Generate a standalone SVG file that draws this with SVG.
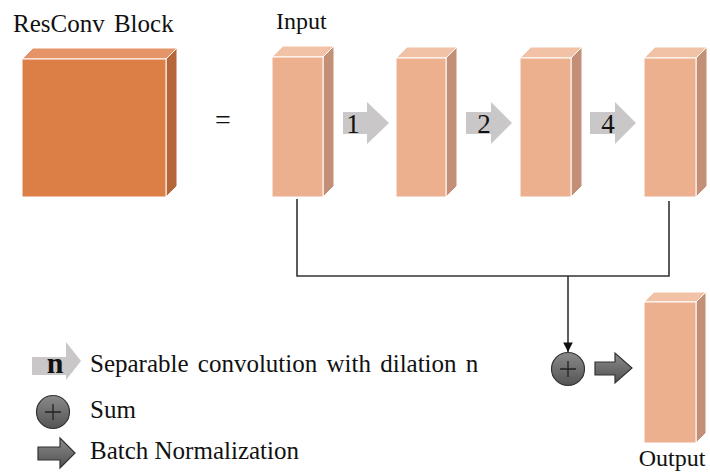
<svg xmlns="http://www.w3.org/2000/svg" width="710" height="472" viewBox="0 0 710 472">
  <style>
    .t { font-family: "Liberation Serif", "Times New Roman", serif; fill: #111; }
    .big { font-size: 25px; }
    .lbl { font-size: 24px; }
    .leg { font-size: 25px; }
    .num { font-size: 27px; text-anchor: middle; }
    .fr { fill: #ECB08F; stroke: #fff; stroke-width: 1; }
    .tp { fill: #F1C2A6; stroke: #fff; stroke-width: 1; }
    .sd { fill: #C38F77; stroke: #fff; stroke-width: 1; }
    .frD { fill: #DC7F47; stroke: #fff; stroke-width: 1; }
    .tpD { fill: #E49467; stroke: #fff; stroke-width: 1; }
    .sdD { fill: #B5673A; stroke: #fff; stroke-width: 1; }
    .conv { fill: #C9C7C7; }
    .bn { fill: url(#gradDark); stroke: #333; stroke-width: 1.2; }
    .sum { fill: url(#gradSum); stroke: #333; stroke-width: 1.2; }
    .plus { stroke: #222; stroke-width: 1.3; fill: none; }
    .wire { stroke: #333; stroke-width: 1.6; fill: none; }
  </style>
  <defs>
    <linearGradient id="gradDark" x1="0" y1="0" x2="0" y2="1">
      <stop offset="0" stop-color="#8C8C8C"/>
      <stop offset="1" stop-color="#505050"/>
    </linearGradient>
    <linearGradient id="gradSum" x1="0" y1="0" x2="0" y2="1">
      <stop offset="0" stop-color="#8A8A8A"/>
      <stop offset="1" stop-color="#545454"/>
    </linearGradient>
    <marker id="tip" viewBox="0 0 10 10" refX="10" refY="5" markerWidth="6" markerHeight="6" markerUnits="strokeWidth" orient="auto">
      <path d="M0,0 L10,5 L0,10 z" fill="#111"/>
    </marker>
  </defs>

  <rect width="710" height="472" fill="#fff"/>

  <!-- big block on the left -->
  <g id="resconv-block">
    <text class="t big" x="13" y="32" word-spacing="3">ResConv Block</text>
    <polygon class="tpD" points="22,59 33,48 177,48 166,59"/>
    <polygon class="sdD" points="166,59 177,48 177,186 166,197"/>
    <rect class="frD" x="22" y="59" width="144" height="138"/>
  </g>

  <text class="t" x="223" y="129" font-size="28" text-anchor="middle" fill="#333">=</text>

  <g id="input">
    <text class="t lbl" x="276" y="29">Input</text>
    <polygon class="tp" points="272,57 283,46 334,46 323,57"/>
    <polygon class="sd" points="323,57 334,46 334,186 323,197"/>
    <rect class="fr" x="272" y="57" width="51" height="140"/>
  </g>

  <g id="block-2">
    <polygon class="tp" points="396,58 407,47 457,47 446,58"/>
    <polygon class="sd" points="446,58 457,47 457,186 446,197"/>
    <rect class="fr" x="396" y="58" width="50" height="139"/>
  </g>

  <g id="block-3">
    <polygon class="tp" points="520,58 531,47 582,47 571,58"/>
    <polygon class="sd" points="571,58 582,47 582,186 571,197"/>
    <rect class="fr" x="520" y="58" width="51" height="139"/>
  </g>

  <g id="block-4">
    <polygon class="tp" points="644,58 655,47 707,47 696,58"/>
    <polygon class="sd" points="696,58 707,47 707,186 696,197"/>
    <rect class="fr" x="644" y="58" width="52" height="139"/>
  </g>

  <g id="output">
    <polygon class="tp" points="644,302 654,292 706,292 696,302"/>
    <polygon class="sd" points="696,302 706,292 706,433 696,443"/>
    <rect class="fr" x="644" y="302" width="52" height="141"/>
    <text class="t lbl" x="672" y="466" text-anchor="middle">Output</text>
  </g>

  <!-- dilated separable convolutions -->
  <g id="conv-1">
    <polygon class="conv" points="343,112 367,112 367,102 389,123 367,144 367,134 343,134"/>
    <text class="t num" x="353" y="133">1</text>
  </g>
  <g id="conv-2">
    <polygon class="conv" points="466,112 491,112 491,102 512,123 491,144 491,134 466,134"/>
    <text class="t num" x="484" y="133">2</text>
  </g>
  <g id="conv-4">
    <polygon class="conv" points="590,112 615,112 615,102 636,123 615,144 615,134 590,134"/>
    <text class="t num" x="608" y="133">4</text>
  </g>

  <g id="sum">
    <circle class="sum" cx="568" cy="369" r="16.5"/>
    <path class="plus" d="M560,369 H576 M568,361 V377"/>
  </g>

  <g id="batch-norm">
    <polygon class="bn" points="595,362 615,362 615,353 632,368 615,383 615,375 595,375"/>
  </g>

  <g id="connectors">
    <path class="wire" d="M297,199 V276 H669 V201"/>
    <path class="wire" d="M568,276 V352" marker-end="url(#tip)"/>
  </g>

  <!-- legend -->
  <g id="legend">
    <polygon class="conv" points="32,357 66,357 66,342 81,361 66,380 66,375 32,375"/>
    <text class="t" x="55" y="373" font-size="30" text-anchor="middle" font-weight="bold">n</text>
    <text class="t leg" x="90" y="372" word-spacing="3">Separable convolution with dilation n</text>

    <circle class="sum" cx="53" cy="412" r="16.5"/>
    <path class="plus" d="M45,412 H61 M53,404 V420"/>
    <text class="t leg" x="90" y="418">Sum</text>

    <polygon class="bn" points="38,447 60,447 60,438 75,453 60,468 60,460 38,460"/>
    <text class="t leg" x="90" y="459">Batch Normalization</text>
  </g>
</svg>
